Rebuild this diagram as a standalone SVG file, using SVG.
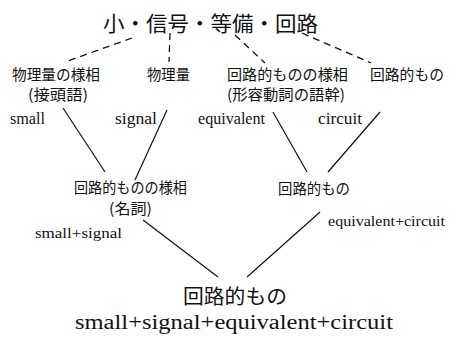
<svg xmlns="http://www.w3.org/2000/svg" width="451" height="337" viewBox="0 0 451 337">
<style>
.jp{font-family:"Noto Sans CJK JP","Noto Sans CJK SC",sans-serif;fill:#111;}
.en{font-family:"Liberation Serif",serif;fill:#111;}
.dash{stroke:#111;stroke-width:1.3;stroke-dasharray:7 5;fill:none;}
.solid{stroke:#111;stroke-width:1.2;fill:none;}
</style>
<rect width="451" height="337" fill="#fff"/>
<g id="title"><text class="jp" x="103" y="31" font-size="21" textLength="215" lengthAdjust="spacingAndGlyphs">小・信号・等備・回路</text></g>
<g id="n1">
<text class="jp" x="12" y="80" font-size="15" textLength="88" lengthAdjust="spacingAndGlyphs">物理量の様相</text>
<text class="jp" x="28" y="100" font-size="15" textLength="60" lengthAdjust="spacingAndGlyphs">(接頭語)</text>
</g>
<g id="n2"><text class="jp" x="147" y="80" font-size="15" textLength="43" lengthAdjust="spacingAndGlyphs">物理量</text></g>
<g id="n3">
<text class="jp" x="227" y="80" font-size="15" textLength="121" lengthAdjust="spacingAndGlyphs">回路的ものの様相</text>
<text class="jp" x="227" y="100" font-size="15" textLength="118" lengthAdjust="spacingAndGlyphs">(形容動詞の語幹)</text>
</g>
<g id="n4"><text class="jp" x="370" y="80" font-size="15" textLength="74" lengthAdjust="spacingAndGlyphs">回路的もの</text></g>
<g id="n5">
<text class="jp" x="74" y="193" font-size="15" textLength="113" lengthAdjust="spacingAndGlyphs">回路的ものの様相</text>
<text class="jp" x="109" y="214" font-size="15" textLength="43" lengthAdjust="spacingAndGlyphs">(名詞)</text>
<text class="en" x="35" y="238" font-size="15" textLength="87" lengthAdjust="spacingAndGlyphs">small+signal</text>
</g>
<g id="n6">
<text class="jp" x="278" y="194" font-size="15" textLength="72" lengthAdjust="spacingAndGlyphs">回路的もの</text>
<text class="en" x="328" y="226" font-size="15" textLength="117" lengthAdjust="spacingAndGlyphs">equivalent+circuit</text>
</g>
<g id="n7">
<text class="jp" x="183" y="304" font-size="20" textLength="104" lengthAdjust="spacingAndGlyphs">回路的もの</text>
<text class="en" x="75" y="329" font-size="20" textLength="318" lengthAdjust="spacingAndGlyphs">small+signal+equivalent+circuit</text>
</g>
<g id="connectors">
<line class="dash" x1="132" y1="38" x2="65" y2="62"/>
<line class="dash" x1="170" y1="33" x2="169" y2="62"/>
<line class="dash" x1="235" y1="35" x2="265" y2="63"/>
<line class="dash" x1="302" y1="33" x2="371" y2="63"/>
<line class="solid" x1="63" y1="108" x2="105" y2="172"/>
<line class="solid" x1="167" y1="110" x2="135" y2="180"/>
<line class="solid" x1="273" y1="112" x2="307" y2="172"/>
<line class="solid" x1="380" y1="112" x2="328" y2="172"/>
<line class="solid" x1="143" y1="220" x2="218" y2="277"/>
<line class="solid" x1="320" y1="212" x2="247" y2="277"/>
<text class="en" x="10" y="124" font-size="16" textLength="35" lengthAdjust="spacingAndGlyphs">small</text>
<text class="en" x="115" y="124" font-size="16" textLength="42" lengthAdjust="spacingAndGlyphs">signal</text>
<text class="en" x="198" y="124" font-size="16" textLength="67" lengthAdjust="spacingAndGlyphs">equivalent</text>
<text class="en" x="318" y="124" font-size="16" textLength="44" lengthAdjust="spacingAndGlyphs">circuit</text>
</g>
</svg>
